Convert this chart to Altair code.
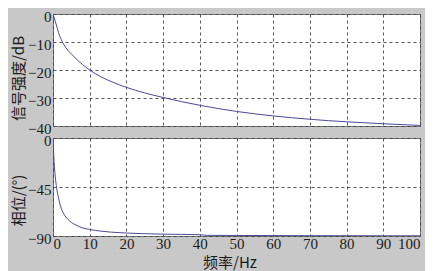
import altair as alt
import pandas as pd

# magnitude response
mag_freq = [0, 0.3, 0.6, 1, 1.5, 2, 3, 4, 5, 6, 8, 10, 13, 16, 20, 25, 30, 35, 40, 50, 60, 70, 80, 90, 100]
mag_db = [0, -1.2, -2.6, -4.3, -6.6, -8.4, -11.0, -12.9, -14.3, -15.6, -18.0, -20.0, -22.4, -24.2, -26.2, -28.2, -29.8, -31.3, -32.6, -34.8, -36.4, -37.6, -38.5, -39.2, -39.8]

# phase response
ph_freq = [0, 0.3, 0.6, 1, 1.5, 2, 3, 4, 5, 6, 8, 10, 13, 16, 20, 25, 30, 40, 42, 50, 60, 70, 80, 90, 100]
ph_deg = [0, -22, -35, -46, -55, -62, -70, -74.5, -77.5, -79.5, -82.5, -84, -85.5, -86.5, -87.3, -87.9, -88.3, -88.8, -89.4, -89.5, -89.6, -89.7, -89.7, -89.8, -89.8]

x_ticks = [0, 10, 20, 30, 40, 50, 60, 70, 80, 90, 100]
mag_ticks = [0, -10, -20, -30, -40]
ph_ticks = [0, -45, -90]

mag_df = pd.DataFrame({"f": mag_freq, "v": mag_db})
ph_df = pd.DataFrame({"f": ph_freq, "v": ph_deg})

LINE = "#4a4a98"
W = 367
H1 = 112
H2 = 98
SERIF = "Liberation Serif"

top = alt.Chart(mag_df).mark_line(color=LINE, strokeWidth=1, interpolate="monotone", clip=True).encode(
    x=alt.X("f:Q", scale=alt.Scale(domain=[0, 100], nice=False),
            axis=alt.Axis(values=x_ticks, labels=False, ticks=False, domain=False, title=None)),
    y=alt.Y("v:Q", scale=alt.Scale(domain=[-40, 0], nice=False),
            axis=alt.Axis(values=mag_ticks, title="信号强度/dB", titleY=H1 / 2 + 8, labelOffset=2)),
).properties(width=W, height=H1)

bottom = alt.Chart(ph_df).mark_line(color=LINE, strokeWidth=1, interpolate="monotone", clip=True).encode(
    x=alt.X("f:Q", scale=alt.Scale(domain=[0, 100], nice=False),
            axis=alt.Axis(values=x_ticks, title="频率/Hz", titleX=W / 2 - 7, labelPadding=0, titlePadding=4)),
    y=alt.Y("v:Q", scale=alt.Scale(domain=[-90, 0], nice=False),
            axis=alt.Axis(values=ph_ticks, title="相位/(°)", titleY=H2 / 2 + 13, labelOffset=2)),
).properties(width=W, height=H2)

chart = alt.vconcat(top, bottom, spacing=12, bounds="flush").properties(
    background="#c8c8c8",
    padding={"left": 3, "top": 0, "right": 4, "bottom": 0},
).configure_view(
    fill="white", stroke="#777777", strokeWidth=1
).configure_axis(
    grid=True, gridColor="#444444", gridDash=[3, 3], gridWidth=1, gridOpacity=0.9,
    domain=False, ticks=False,
    labelFont=SERIF, labelFontSize=15, labelColor="#1a1a1a", labelPadding=2,
    titleFont="Noto Sans CJK SC", titleFontSize=15, titleFontWeight="normal", titleColor="#1a1a1a",
    titlePadding=1,
)

chart.save("out.html", embed_options={"renderer": "svg", "actions": False})
